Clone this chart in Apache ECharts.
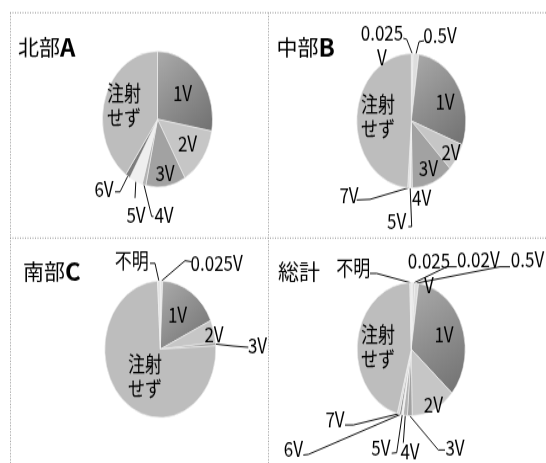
<!DOCTYPE html>
<html>
<head>
<meta charset="utf-8">
<script src="https://cdn.jsdelivr.net/npm/echarts@6/dist/echarts.min.js"></script>
<style>
  html, body { margin: 0; padding: 0; background: #fff; overflow: hidden; }
  #wrap { width: 546px; height: 463px; overflow: hidden; }
  /* charts were pasted stretched vertically; the canvas is drawn flat then stretched */
  #chart { width: 546px; height: 376px; transform: scaleY(1.2314); transform-origin: 0 0; }
</style>
</head>
<body>
<div id="wrap"><div id="chart"></div></div>
<script>
// 注射電圧別の割合 (%)
const categories = ['0.025V', '0.02V', '0.5V', '1V', '2V', '3V', '4V', '5V', '6V', '7V', '注射せず', '不明'];
const northA   = [0,    0,    0,    27.8, 13.9, 11.7, 1.1,  3.9,  1.4,  0,    40.2, 0];
const centralB = [0.55, 0,    1.65, 28.6, 6.7,  12.2, 0.4,  0.4,  0,    0.55, 48.9, 0];
const southC   = [0.7,  0,    0,    17.4, 5.3,  0.8,  0,    0,    0,    0,    75.0, 0.8];
const totalAll = [0.55, 0.55, 1.1,  34.2, 13.3, 1.4,  1.25, 0.55, 0.55, 0.7,  45.4, 0.4];

const panelTitles = [['北部', 'A'], ['中部', 'B'], ['南部', 'C'], ['総計', '']];

const SY = 463 / 376;
const FONT = '"Noto Sans CJK JP", "Noto Sans", sans-serif';

const sliceColors = {
  '0.025V': '#e4e4e4', '0.02V': '#d2d2d2', '0.5V': '#dedede',
  '1V': new echarts.graphic.LinearGradient(0, 0, 1, 1, [
    { offset: 0, color: '#ababab' }, { offset: 1, color: '#707070' }]),
  '2V': '#c6c6c6', '3V': '#a2a2a2', '4V': '#b4b4b4', '5V': '#efefef',
  '6V': '#7c7c7c', '7V': '#d8d8d8', '注射せず': '#bdbdbd', '不明': '#e2e2e2'
};

// label placement relative to each pie's centre: at = label centre,
// line = [elbow, end] of the leader drawn from the slice edge
const labelsA = {
  '1V': { at: [25, -21] }, '2V': { at: [30, 20] }, '3V': { at: [7.5, 44] },
  '4V': { at: [6.5, 78], line: [[-5.8, 79], [-4, 79]] },
  '5V': { at: [-21.5, 78], line: [[-22.5, 64], [-22.5, 64]] },
  '6V': { at: [-53.5, 57], line: [[-37.5, 59], [-42.5, 59]] },
  '注射せず': { at: [-33.5, -11.5] }
};
const labelsB = {
  '0.025V': { at: [-29.3, -61.2], line: [[-4.6, -66.2], [-8, -67]] },
  '0.5V': { at: [28.7, -69.7], line: [[7.7, -64.2], [12.7, -65]] },
  '1V': { at: [33.7, -15.5] }, '2V': { at: [39.7, 25.1] }, '3V': { at: [17, 38.6] },
  '4V': { at: [10.4, 62.3] },
  '5V': { at: [-14.6, 81.9], line: [[0.4, 85.9], [-3, 85.9]] },
  '7V': { at: [-62.3, 60.3], line: [[-41.3, 63.8], [-54.6, 64.3]] },
  '注射せず': { at: [-33.3, -3.9] }
};
const labelsC = {
  '0.025V': { at: [56.4, -70.4], line: [[24.7, -71.9], [31.4, -71.1]] },
  '不明': { at: [-28.6, -72.5], line: [[-5.3, -69.8], [-10.3, -69.8]] },
  '1V': { at: [17.2, -27.8] }, '2V': { at: [53.7, -12.4] },
  '3V': { at: [97.2, -3.4], line: [[72.7, -2.6], [88, -1.6]] },
  '注射せず': { at: [-15.3, 21.7] }
};
const labelsD = {
  '0.025V': { at: [17.8, -62.3] },
  '0.02V': { at: [67.1, -73.1], line: [[35.5, -67], [45.5, -67]] },
  '0.5V': { at: [116.3, -73.1], line: [[88.8, -67], [98.8, -67]] },
  '不明': { at: [-57.9, -65.7], line: [[-34.5, -61.6], [-41.2, -61.6]] },
  '1V': { at: [32.8, -11.6] }, '2V': { at: [22.1, 45.3] },
  '3V': { at: [43.8, 79.8], line: [[27.1, 81.8], [33.8, 81.8]] },
  '4V': { at: [-1.2, 82.5], line: [[-7.9, 76], [-7.9, 76]] },
  '5V': { at: [-30.4, 79.8], line: [[-14.5, 84], [-19.5, 84.5]] },
  '6V': { at: [-117.9, 81.1], line: [[-102.9, 85.4], [-107.9, 85.9]] },
  '7V': { at: [-76.2, 56.7], line: [[-57.9, 61.5], [-66.2, 61.5]] },
  '注射せず': { at: [-33.2, -2.1] }
};

const panels = [
  { values: northA,   center: [157.5, 96.8],  radius: 55,   labels: labelsA, wrap: false },
  { values: centralB, center: [411.3, 98.1],  radius: 54.5, labels: labelsB, wrap: true },
  { values: southC,   center: [160.3, 283.6], radius: 55.5, labels: labelsC, wrap: false },
  { values: totalAll, center: [411.2, 283.6], radius: 54,   labels: labelsD, wrap: true }
];

function labelText(name, wrap) {
  if (name === '注射せず') return '注射\nせず';
  if (wrap && name === '0.025V') return '0.025\nV';
  return name;
}

function buildSeries(p) {
  const data = categories
    .map((c, i) => ({ name: c, value: p.values[i] }))
    .filter(d => d.value > 0)
    .map(d => ({
      name: d.name,
      value: d.value,
      itemStyle: { color: sliceColors[d.name] },
      labelLine: { show: !!(p.labels[d.name] && p.labels[d.name].line) }
    }));
  const names = data.map(d => d.name);
  const [cx, cy] = p.center;
  return {
    type: 'pie',
    center: p.center,
    radius: p.radius,
    startAngle: 90,
    clockwise: true,
    avoidLabelOverlap: false,
    animation: false,
    silent: true,
    itemStyle: { borderColor: '#f2f2f2', borderWidth: 0.6 },
    label: {
      show: true,
      position: 'outside',
      color: '#000',
      fontFamily: FONT,
      fontSize: 17,
      lineHeight: 20,
      formatter: (q) => labelText(q.name, p.wrap)
    },
    labelLine: { show: true, length: 5, length2: 5, lineStyle: { color: '#111', width: 1 } },
    labelLayout: function (q) {
      const cfg = p.labels[names[q.dataIndex]];
      if (!cfg) return {};
      const out = {
        x: cx + cfg.at[0], y: cy + cfg.at[1],
        align: 'center', verticalAlign: 'middle'
      };
      if (cfg.line && q.labelLinePoints) {
        const e = q.labelLinePoints[0];
        out.labelLinePoints = [
          [e[0], e[1]],
          [cx + cfg.line[0][0], cy + cfg.line[0][1]],
          [cx + cfg.line[1][0], cy + cfg.line[1][1]]
        ];
      }
      return out;
    },
    data: data
  };
}

// panel titles are drawn unstretched
const titlePos = [[18, 47.5 / SY], [276.5, 47.5 / SY], [23, 271.7 / SY], [278, 271.7 / SY]];
const titleGraphics = panelTitles.map((t, i) => ({
  type: 'text',
  x: titlePos[i][0],
  y: titlePos[i][1],
  scaleY: 1 / SY,
  silent: true,
  style: {
    text: '{c|' + t[0] + '}' + (t[1] ? '{b|' + t[1] + '}' : ''),
    rich: {
      c: { fontFamily: FONT, fontSize: 21, fill: '#000', color: '#000' },
      b: { fontFamily: FONT, fontSize: 24, fontWeight: 'bold', fill: '#000', color: '#000' }
    },
    align: 'left', verticalAlign: 'middle',
    textAlign: 'left', textVerticalAlign: 'middle'
  }
}));

// dotted panel frames
function dotted(x1, y1, x2, y2) {
  return {
    type: 'line', silent: true,
    shape: { x1: x1, y1: y1, x2: x2, y2: y2 },
    style: { stroke: '#8a8a8a', lineWidth: 0.9, lineDash: [1, 1.5] }
  };
}
const frameGraphics = [
  dotted(10, 12.7 / SY, 546, 12.7 / SY),
  dotted(10, 238 / SY, 546, 238 / SY),
  dotted(10.5, 12.7 / SY, 10.5, 376),
  dotted(268.5, 12.7 / SY, 268.5, 376)
];

const chart = echarts.init(document.getElementById('chart'), null, { renderer: 'canvas' });
chart.setOption({
  backgroundColor: '#fff',
  animation: false,
  graphic: { elements: frameGraphics.concat(titleGraphics) },
  series: panels.map(buildSeries)
});
</script>
</body>
</html>
